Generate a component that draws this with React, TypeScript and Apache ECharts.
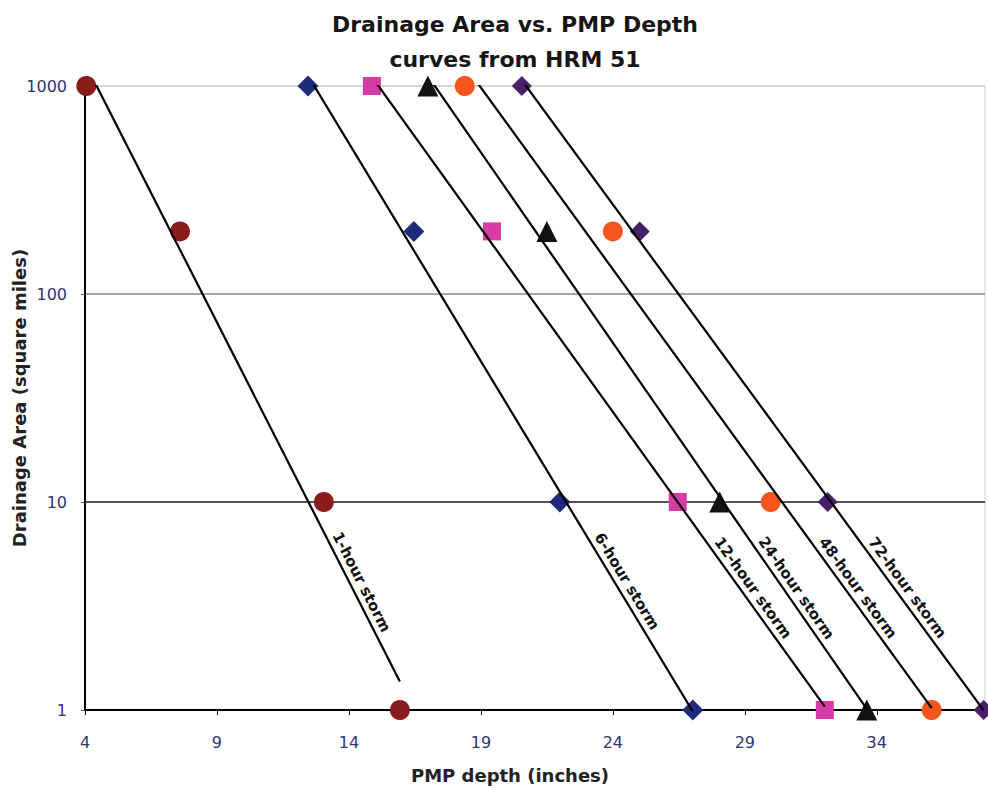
import React, { useEffect, useRef } from "react";
import * as echarts from "echarts";

// Drainage area (square miles) of each observation row
const areas = [1000, 200, 10, 1];
const stormNames = ["1-hour storm", "6-hour storm", "12-hour storm", "24-hour storm", "48-hour storm", "72-hour storm"];
// PMP depth (inches) per storm duration, matching the areas above
const depth1h = [4.05, 7.6, 13.05, 15.93];
const depth6h = [12.45, 16.46, 21.99, 27.03];
const depth12h = [14.87, 19.42, 26.46, 32.03];
const depth24h = [16.99, 21.5, 28.05, 33.62];
const depth48h = [18.39, 24.0, 29.98, 36.08];
const depth72h = [20.55, 25.02, 32.14, 38.05];
const xTickLabels = [4, 9, 14, 19, 24, 29, 34];
const yTickLabels = [1, 10, 100, 1000];
// area at which each curve's text label sits
const labelAnchorArea = [3.9, 3.9, 3.6, 3.6, 3.6, 3.6];

const depths = [depth1h, depth6h, depth12h, depth24h, depth48h, depth72h];
const colors = ["#8a1c1c", "#1f2a7c", "#d63ba6", "#111111", "#f4561e", "#4a1f6a"];
const symbols = ["circle", "diamond", "rect", "triangle", "circle", "diamond"];
const sizes = [20, 21, 18, 21, 20, 20];

const FONT = "DejaVu Sans";

// exponential trendline (least squares on log10 area), as the spreadsheet draws it
function fit(xs: number[], ys: number[]) {
  const ly = ys.map((v) => Math.log10(v));
  const n = xs.length;
  const mx = xs.reduce((s, v) => s + v, 0) / n;
  const my = ly.reduce((s, v) => s + v, 0) / n;
  let sxx = 0, sxy = 0;
  for (let i = 0; i < n; i++) {
    sxx += (xs[i] - mx) * (xs[i] - mx);
    sxy += (xs[i] - mx) * (ly[i] - my);
  }
  const b = sxy / sxx;
  const a = my - b * mx;
  return { a, b };
}

export default function App() {
  const ref = useRef<HTMLDivElement>(null);
  useEffect(() => {
    document.body.style.margin = "0";
    const chart = echarts.init(ref.current!, null, { renderer: "svg" });
    const fits = depths.map((d) => fit(d, areas));

    const scatterSeries = depths.map((d, i) => ({
      type: "scatter",
      name: stormNames[i],
      data: d.map((x, j) => [x, areas[j]]),
      symbol: symbols[i],
      symbolSize: sizes[i],
      itemStyle: { color: colors[i], opacity: 1 },
      z: 3,
    }));
    const lineSeries = depths.map((d, i) => {
      const xmin = Math.min(...d);
      const xmax = Math.max(...d);
      const f = fits[i];
      return {
        type: "line",
        name: stormNames[i] + " trend",
        data: [xmin, xmax].map((x) => [x, Math.pow(10, f.a + f.b * x)]),
        showSymbol: false,
        symbol: "none",
        lineStyle: { color: "#000", width: 2.2 },
        clip: true,
        z: 4,
      };
    });

    chart.setOption({
      animation: false,
      backgroundColor: "#fff",
      title: [
        { text: "Drainage Area vs. PMP Depth", left: 510, top: 8, textAlign: "center",
          textStyle: { fontFamily: FONT, fontWeight: "bold", fontSize: 22, color: "#161616" } },
        { text: "curves from HRM 51", left: 510, top: 43, textAlign: "center",
          textStyle: { fontFamily: FONT, fontWeight: "bold", fontSize: 22, color: "#161616" } },
      ],
      grid: {
        left: 85, right: 3, top: 86, bottom: 79, show: true, borderColor: "#cfcfcf", borderWidth: 1,
        containLabel: false, outerBoundsMode: "none",
      },
      xAxis: {
        type: "value",
        min: 4,
        max: 38.1,
        interval: 5,
        name: "PMP depth (inches)",
        nameLocation: "middle",
        nameGap: 56,
        nameMoveOverlap: false,
        nameTextStyle: { fontFamily: FONT, fontWeight: "bold", fontSize: 18, color: "#222", padding: [0, 50, 0, 0] },
        axisLine: { lineStyle: { color: "#000", width: 2 } },
        axisTick: { show: true, length: 5, lineStyle: { color: "#000" } },
        axisLabel: {
          fontFamily: FONT, fontSize: 16, color: "#2e3670", margin: 24,
          formatter: (v: number) => (xTickLabels.includes(Math.round(v * 100) / 100) ? String(v) : ""),
        },
        splitLine: { show: false },
      },
      yAxis: {
        type: "log",
        logBase: 10,
        min: 1,
        max: 1000,
        name: "Drainage Area (square miles)",
        nameLocation: "middle",
        nameGap: 57,
        nameMoveOverlap: false,
        nameTextStyle: { fontFamily: FONT, fontWeight: "bold", fontSize: 18, color: "#222" },
        axisLine: { show: true, lineStyle: { color: "#000", width: 2 } },
        axisTick: { show: true, length: 4, lineStyle: { color: "#555" } },
        axisLabel: {
          fontFamily: FONT, fontSize: 16, color: "#2e3670", margin: 18,
          formatter: (v: number) => (yTickLabels.includes(Math.round(v)) ? String(Math.round(v)) : ""),
        },
        minorTick: { show: false },
        splitLine: { show: true, lineStyle: { color: ["#000", "#1a1a1a", "#8a8a8a", "#d0d0d0"], width: 1.5 } },
      },
      series: [...scatterSeries, ...lineSeries],
    });

    const off = 11;
    const graphics = fits.map((f, i) => {
      const area = labelAnchorArea[i];
      const x = (Math.log10(area) - f.a) / f.b;
      const p = chart.convertToPixel({ gridIndex: 0 }, [x, area]) as number[];
      const x2 = x + 1;
      const p2 = chart.convertToPixel({ gridIndex: 0 }, [x2, Math.pow(10, f.a + f.b * x2)]) as number[];
      const theta = Math.atan2(p2[1] - p[1], p2[0] - p[0]);
      return {
        type: "text",
        x: p[0] + off * Math.sin(theta),
        y: p[1] - off * Math.cos(theta),
        rotation: -theta,
        z: 10,
        style: {
          text: stormNames[i],
          fontFamily: FONT,
          fontWeight: "bold",
          fontSize: 15,
          fill: "#111",
          align: "center",
          verticalAlign: "middle",
        },
      };
    });
    chart.setOption({ graphic: graphics });

    return () => chart.dispose();
  }, []);
  return <div ref={ref} style={{ width: 988, height: 789 }} />;
}
